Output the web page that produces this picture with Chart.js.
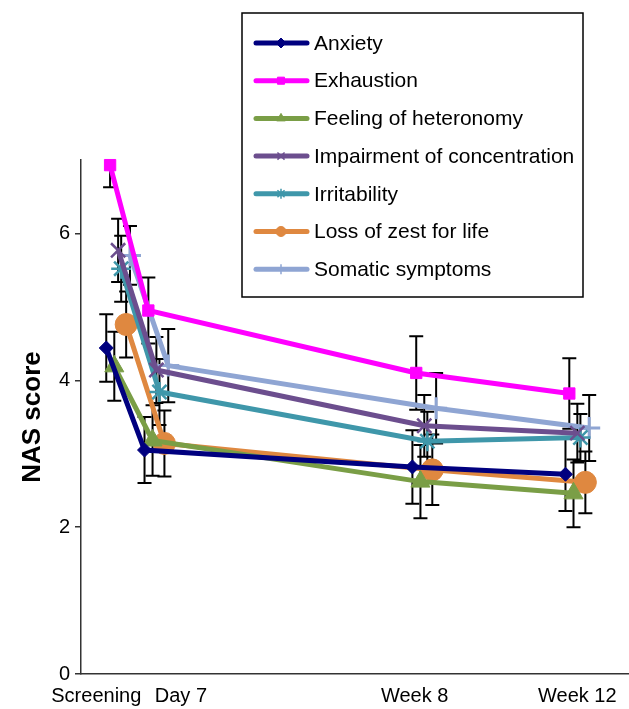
<!DOCTYPE html>
<html>
<head>
<meta charset="utf-8">
<script src="https://cdn.jsdelivr.net/npm/chart.js@4/dist/chart.umd.min.js"></script>
<style>
  html, body { margin: 0; padding: 0; background: #fff; overflow: hidden; }
  #wrap { width: 629px; height: 709px; position: relative; }
  #c { display: block; }
</style>
</head>
<body>
<div id="wrap"><canvas id="c"></canvas></div>
<script>
// visits (weeks from screening) and their axis labels
const visitWeeks = [0, 1, 8, 12]
const tickLabels = ["Screening", "Day 7", "Week 8", "Week 12"]
const yTicks = [0, 2, 4, 6]

const seriesNames = [
  "Anxiety",
  "Exhaustion",
  "Feeling of heteronomy",
  "Impairment of concentration",
  "Irritability",
  "Loss of zest for life",
  "Somatic symptoms"
]

const anxiety = [4.44, 3.05, 2.82, 2.72]
const exhaustion = [6.93, 4.95, 4.10, 3.82]
const heteronomy = [4.19, 3.18, 2.62, 2.46]
const impairment = [5.77, 4.14, 3.38, 3.28]
const irritability = [5.52, 3.84, 3.17, 3.22]
const lossOfZest = [4.76, 3.14, 2.78, 2.61]
const somatic = [5.70, 4.20, 3.62, 3.35]

const anxietyErr = [0.46, 0.45, 0.50, 0.50]
const exhaustionErr = [0.30, 0.45, 0.50, 0.48]
const heteronomyErr = [0.47, 0.48, 0.50, 0.46]
const impairmentErr = [0.43, 0.45, 0.42, 0.40]
const irritabilityErr = [0.45, 0.45, 0.40, 0.32]
const lossOfZestErr = [0.45, 0.45, 0.48, 0.42]
const somaticErr = [0.40, 0.50, 0.48, 0.45]

const values = [anxiety, exhaustion, heteronomy, impairment, irritability, lossOfZest, somatic]
const errors = [anxietyErr, exhaustionErr, heteronomyErr, impairmentErr, irritabilityErr, lossOfZestErr, somaticErr]

// styling
const FONT = "'Liberation Sans', Arial, sans-serif"
const styles = [
  { color: "#00007f", point: "rectRot", radius: 7, border: 1, dodge: -0.31 },
  { color: "#ff00ff", point: "rect", radius: 8, border: 1, dodge: -0.21 },
  { color: "#7a9e46", point: "triangle", radius: 11, border: 1, dodge: -0.10 },
  { color: "#6c4e8e", point: "crossRot", radius: 10, border: 2.5, dodge: 0 },
  { color: "#3f97aa", point: "star", radius: 10, border: 2.5, dodge: 0.08 },
  { color: "#df8840", point: "circle", radius: 11, border: 1, dodge: 0.21 },
  { color: "#8fa5d3", point: "cross", radius: 11, border: 3, dodge: 0.31 }
]
const labelNudge = [-0.57, 0.64, -0.25, 0]

const datasets = seriesNames.map((name, i) => ({
  label: name,
  data: values[i].map((v, j) => ({ x: visitWeeks[j] + styles[i].dodge, y: v, err: errors[i][j] })),
  borderColor: styles[i].color,
  backgroundColor: styles[i].color,
  borderWidth: 5,
  pointStyle: styles[i].point,
  pointRadius: styles[i].radius,
  pointHoverRadius: styles[i].radius,
  pointBorderWidth: styles[i].border,
  pointBorderColor: styles[i].color,
  pointBackgroundColor: styles[i].color,
  tension: 0,
  clip: false
}))

const errorBars = {
  id: "errorBars",
  beforeDatasetsDraw(chart) {
    const { ctx, chartArea, scales } = chart
    ctx.save()
    ctx.beginPath()
    ctx.rect(chartArea.left, chartArea.top, chartArea.right - chartArea.left, chartArea.bottom - chartArea.top)
    ctx.clip()
    ctx.strokeStyle = "#000"
    ctx.lineWidth = 2
    chart.data.datasets.forEach((ds) => {
      ds.data.forEach((p) => {
        const x = scales.x.getPixelForValue(p.x)
        const y1 = scales.y.getPixelForValue(p.y + p.err)
        const y2 = scales.y.getPixelForValue(p.y - p.err)
        ctx.beginPath()
        ctx.moveTo(x, y1); ctx.lineTo(x, y2)
        ctx.moveTo(x - 7, y1); ctx.lineTo(x + 7, y1)
        ctx.moveTo(x - 7, y2); ctx.lineTo(x + 7, y2)
        ctx.stroke()
      })
    })
    ctx.restore()
  }
}

const legendBox = {
  id: "legendBox",
  afterDraw(chart) {
    const ctx = chart.ctx
    ctx.save()
    ctx.fillStyle = "#fff"
    ctx.fillRect(242, 13, 341, 284)
    ctx.strokeStyle = "#000"
    ctx.lineWidth = 1.5
    ctx.strokeRect(242, 13, 341, 284)
    ctx.font = "21px " + FONT
    ctx.textBaseline = "middle"
    chart.data.datasets.forEach((ds, i) => {
      const y = 43 + i * 37.7
      ctx.strokeStyle = ds.borderColor
      ctx.lineWidth = 5
      ctx.lineCap = "round"
      ctx.beginPath()
      ctx.moveTo(256, y); ctx.lineTo(307, y)
      ctx.stroke()
      ctx.lineCap = "butt"
      ctx.fillStyle = ds.borderColor
      ctx.lineWidth = ds.pointBorderWidth > 1 ? 1.5 : 1
      Chart.helpers.drawPoint(ctx, { pointStyle: ds.pointStyle, radius: 5, borderWidth: ctx.lineWidth }, 281, y)
      ctx.fillStyle = "#000"
      ctx.fillText(ds.label, 314, y + 1)
    })
    ctx.restore()
  }
}

new Chart(document.getElementById("c"), {
  type: "line",
  data: { datasets },
  plugins: [errorBars, legendBox],
  options: {
    responsive: true,
    maintainAspectRatio: false,
    animation: false,
    layout: { autoPadding: false, padding: { top: 160, right: 0, left: 0, bottom: 0 } },
    plugins: {
      legend: { display: false },
      tooltip: { enabled: false }
    },
    scales: {
      x: {
        type: "linear",
        min: -0.97,
        max: 13.35,
        afterBuildTicks: (scale) => {
          scale.ticks = visitWeeks.map((w, i) => ({ value: w + labelNudge[i] }))
        },
        afterFit: (scale) => {
          scale.height = 35
          scale.paddingLeft = 0
          scale.paddingRight = 0
        },
        ticks: {
          autoSkip: false,
          maxRotation: 0,
          padding: 10,
          color: "#000",
          font: { family: FONT, size: 20 },
          callback: (v, i) => tickLabels[i]
        },
        grid: { display: false, drawTicks: false },
        border: { display: true, color: "#333", width: 1.5 }
      },
      y: {
        min: 0,
        max: 7,
        afterBuildTicks: (scale) => {
          scale.ticks = yTicks.map((v) => ({ value: v }))
        },
        afterFit: (scale) => {
          scale.width = 81
          scale.paddingTop = 0
          scale.paddingBottom = 0
        },
        ticks: {
          padding: 5,
          color: "#000",
          font: { family: FONT, size: 20 }
        },
        grid: { drawOnChartArea: false, drawTicks: true, tickLength: 6, color: "#333", lineWidth: 1.5 },
        border: { display: true, color: "#333", width: 1.5 },
        title: {
          display: true,
          text: "NAS score",
          color: "#000",
          font: { family: FONT, size: 26, weight: "bold" },
          padding: { top: 17, bottom: 0 }
        }
      }
    }
  }
})
</script>
</body>
</html>
